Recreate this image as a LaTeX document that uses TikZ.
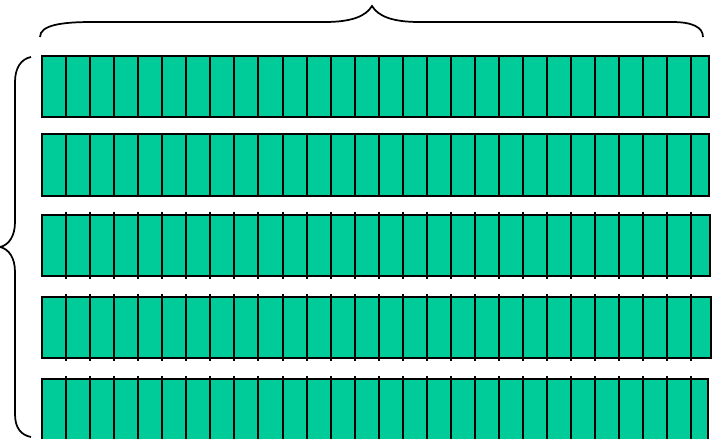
\documentclass[tikz,border=0pt]{standalone}
\definecolor{cellgreen}{HTML}{00CC99}
\begin{document}
\begin{tikzpicture}[x=.75pt,y=-.75pt,line width=1.5pt]
  \useasboundingbox (0,0) rectangle (715,439);
  % rows: top/bottom/right end/overshoot of the dividers
  \foreach \t/\b/\r/\o in {56/117/709/0,134/196/709/1,215/276/710/3,297/358/711/3,379/441/708/3}{
    \draw[fill=cellgreen] (42,\t) rectangle (\r,\b);
    \foreach \k in {1,...,27}
      \draw (42+24.05*\k,\t-\o) -- (42+24.05*\k,\b+\o);
  }
  % top brace
  \coordinate (tl) at (40,37);
  \coordinate (tt) at (372,6);
  \coordinate (tr) at (703,37);
  \draw[line width=1.3pt] (tl) .. controls (40,25) and (62,22) .. (92,22) -- (325,22)
    .. controls (352,22) and (366,16) .. (tt)
    .. controls (378,16) and (392,22) .. (419,22) -- (672,22)
    .. controls (692,22) and (703,27) .. (tr);
  % left brace
  \coordinate (lt) at (31,57);
  \coordinate (lm) at (0,247);
  \coordinate (lb) at (31,437);
  \draw[line width=1.3pt] (lt) .. controls (21,59) and (15,68) .. (15,82) -- (15,222)
    .. controls (15,236) and (9,245) .. (lm)
    .. controls (9,249) and (15,258) .. (15,272) -- (15,414)
    .. controls (15,428) and (21,435) .. (lb);
\end{tikzpicture}
\end{document}
